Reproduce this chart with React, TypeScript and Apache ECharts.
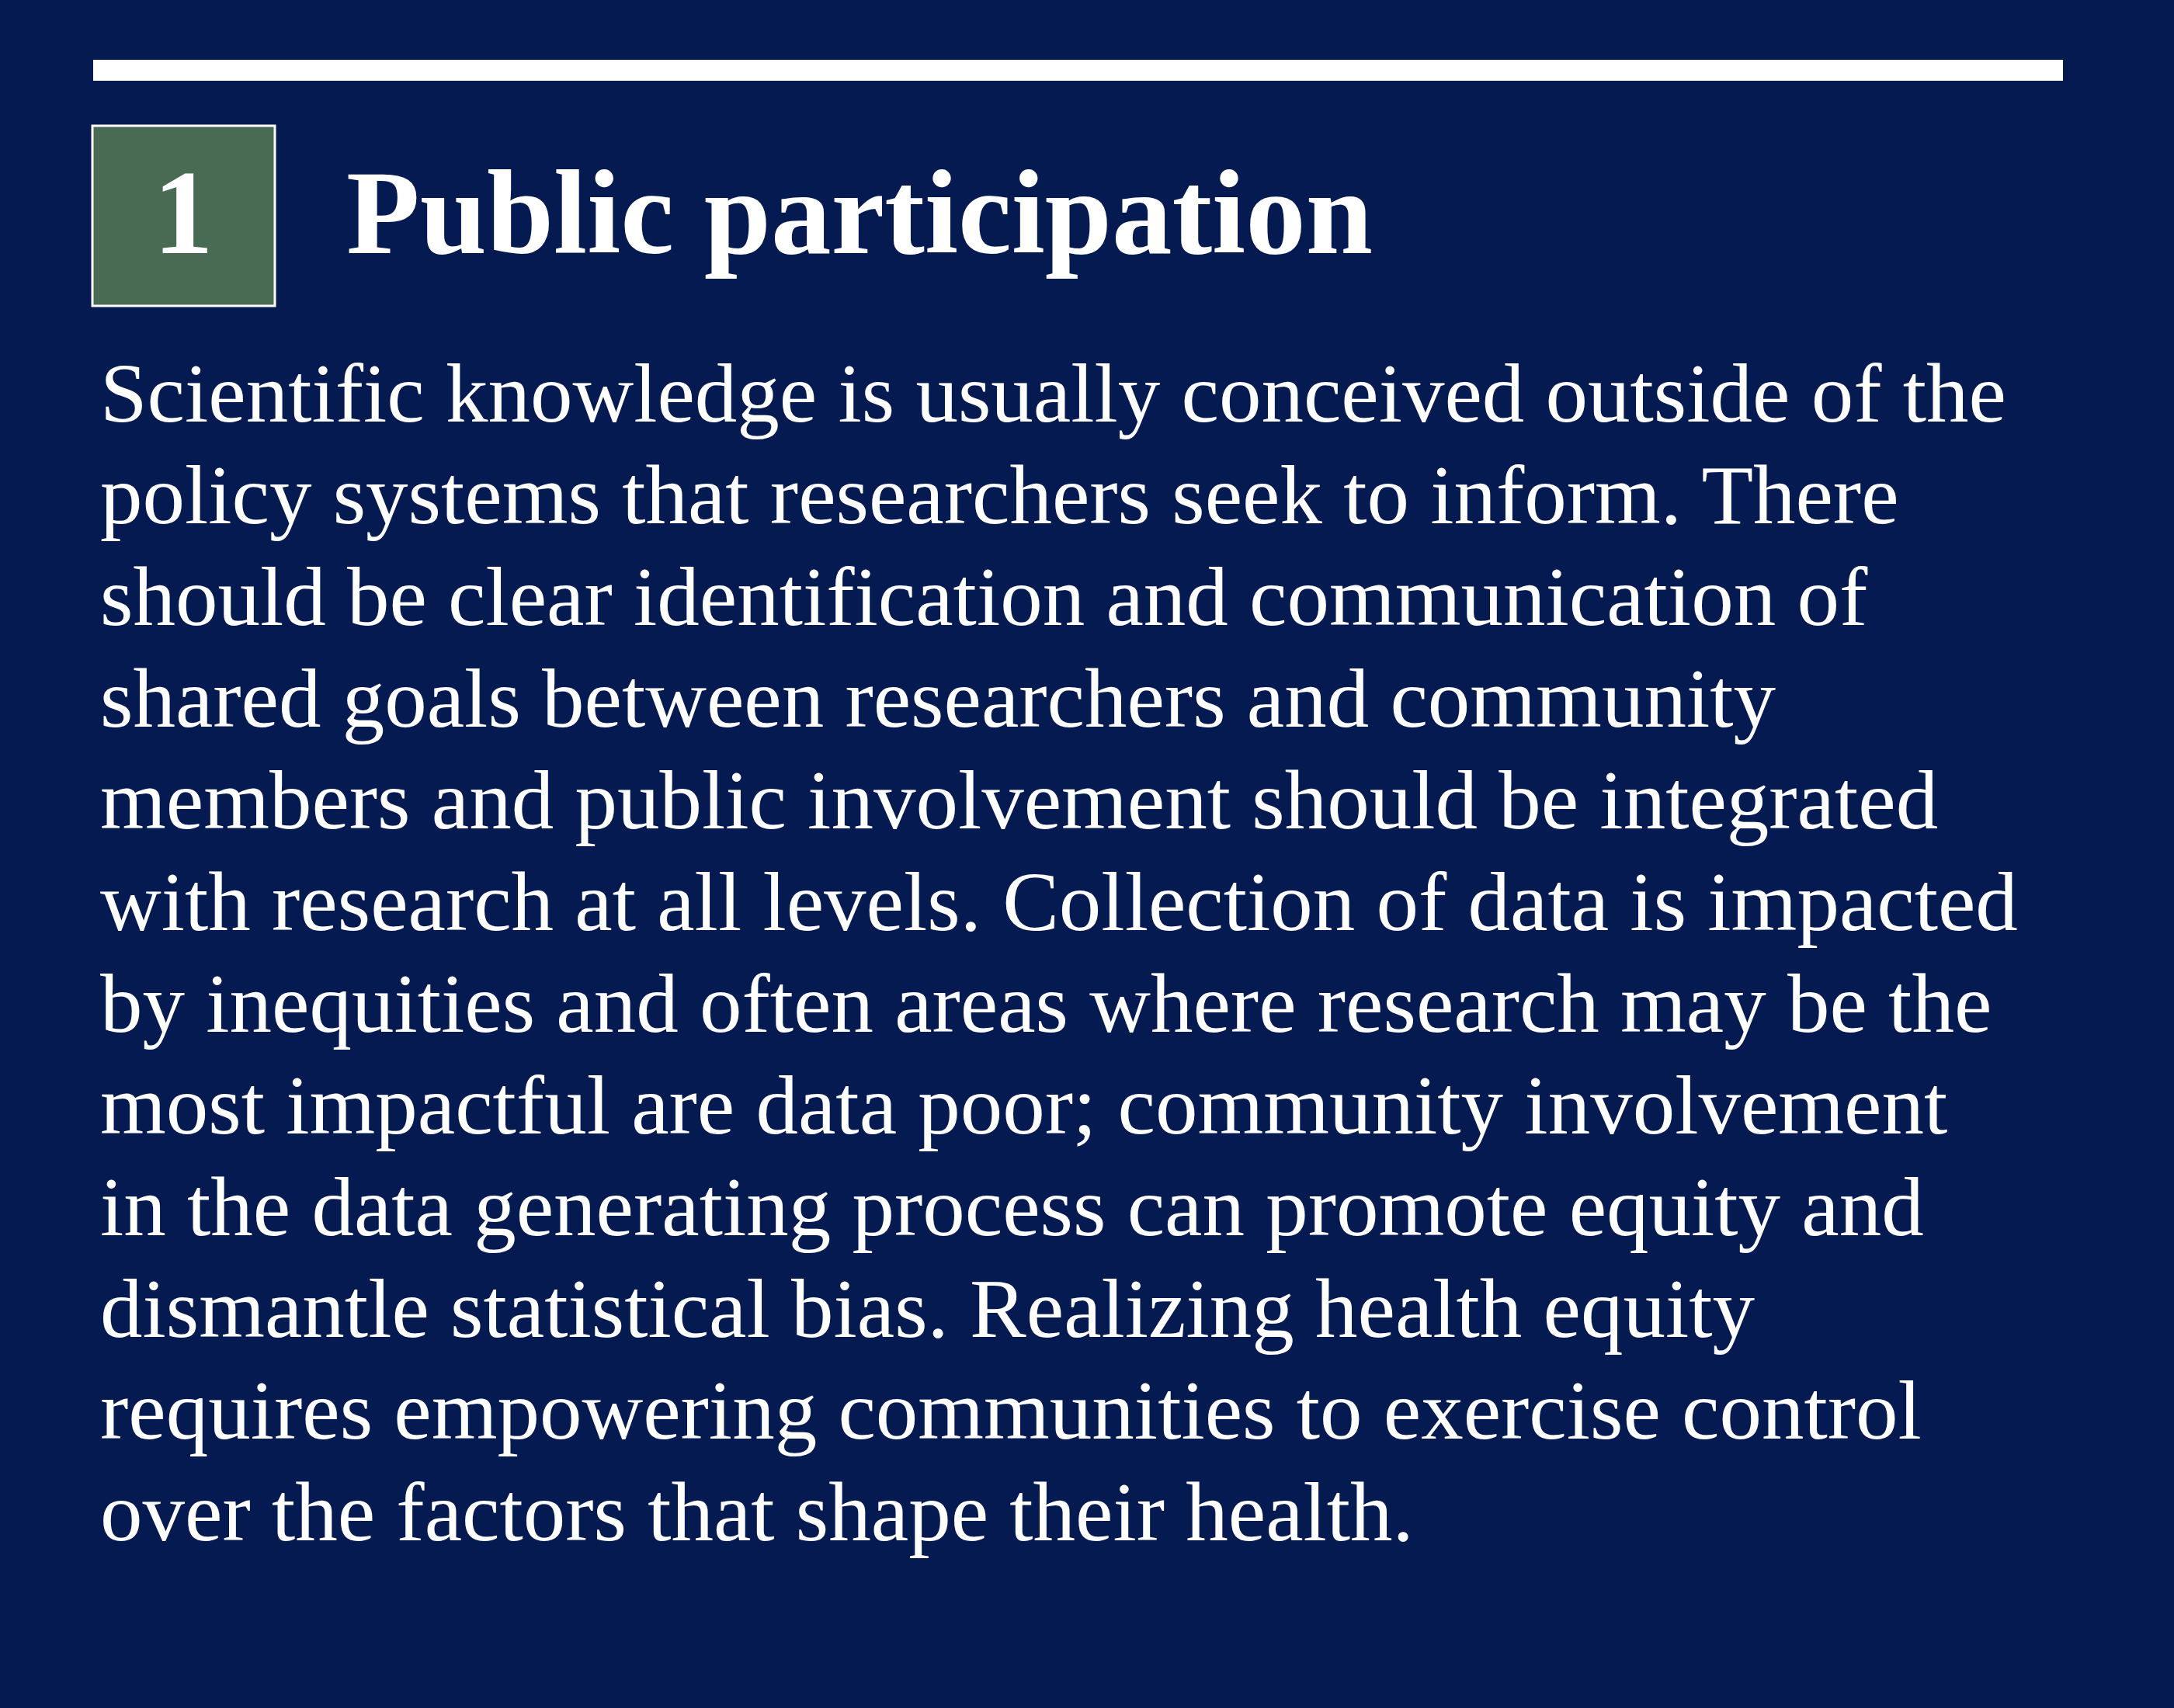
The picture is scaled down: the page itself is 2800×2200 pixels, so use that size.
import React, { useEffect, useRef } from "react";
import * as echarts from "echarts";

const badge = "1";
const title = "Public participation";
const bodyLines = [
  "Scientific knowledge is usually conceived outside of the",
  "policy systems that researchers seek to inform. There",
  "should be clear identification and communication of",
  "shared goals between researchers and community",
  "members and public involvement should be integrated",
  "with research at all levels. Collection of data is impacted",
  "by inequities and often areas where research may be the",
  "most impactful are data poor; community involvement",
  "in the data generating process can promote equity and",
  "dismantle statistical bias. Realizing health equity",
  "requires empowering communities to exercise control",
  "over the factors that shape their health.",
];

const FONT = "'Liberation Serif', 'DejaVu Serif', serif";
const TITLE_SIZE = 155;
const BODY_SIZE = 109;

export default function App() {
  const ref = useRef<HTMLDivElement>(null);
  useEffect(() => {
    document.body.style.margin = "0";
    const chart = echarts.init(ref.current!, undefined, { renderer: "svg" });
    const titleBase = 336;
    const elements: any[] = [
      { type: "rect", shape: { x: 0, y: 0, width: 2800, height: 2200 }, style: { fill: "#061a52" } },
      { type: "rect", shape: { x: 120, y: 77, width: 2537, height: 27 }, style: { fill: "#ffffff" } },
      { type: "rect", shape: { x: 119, y: 162, width: 235, height: 232 }, style: { fill: "#4a6b53", stroke: "#ffffff", lineWidth: 3 } },
      { type: "text", x: 236, y: titleBase - 0.9 * TITLE_SIZE, style: { text: badge, fill: "#fff", font: `bold ${TITLE_SIZE}px ${FONT}`, align: "center", verticalAlign: "top" } },
      { type: "text", x: 446, y: titleBase - 0.9 * TITLE_SIZE, style: { text: title, fill: "#fff", font: `bold ${TITLE_SIZE}px ${FONT}`, verticalAlign: "top" } },
      ...bodyLines.map((t, i) => ({
        type: "text",
        x: 129,
        y: 550 + i * 131 - 0.9 * BODY_SIZE,
        style: { text: t, fill: "#fff", font: `${BODY_SIZE}px ${FONT}`, verticalAlign: "top" },
      })),
    ];
    chart.setOption({ animation: false, graphic: { elements } });
    return () => chart.dispose();
  }, []);
  return <div ref={ref} style={{ width: 2800, height: 2200 }} />;
}
